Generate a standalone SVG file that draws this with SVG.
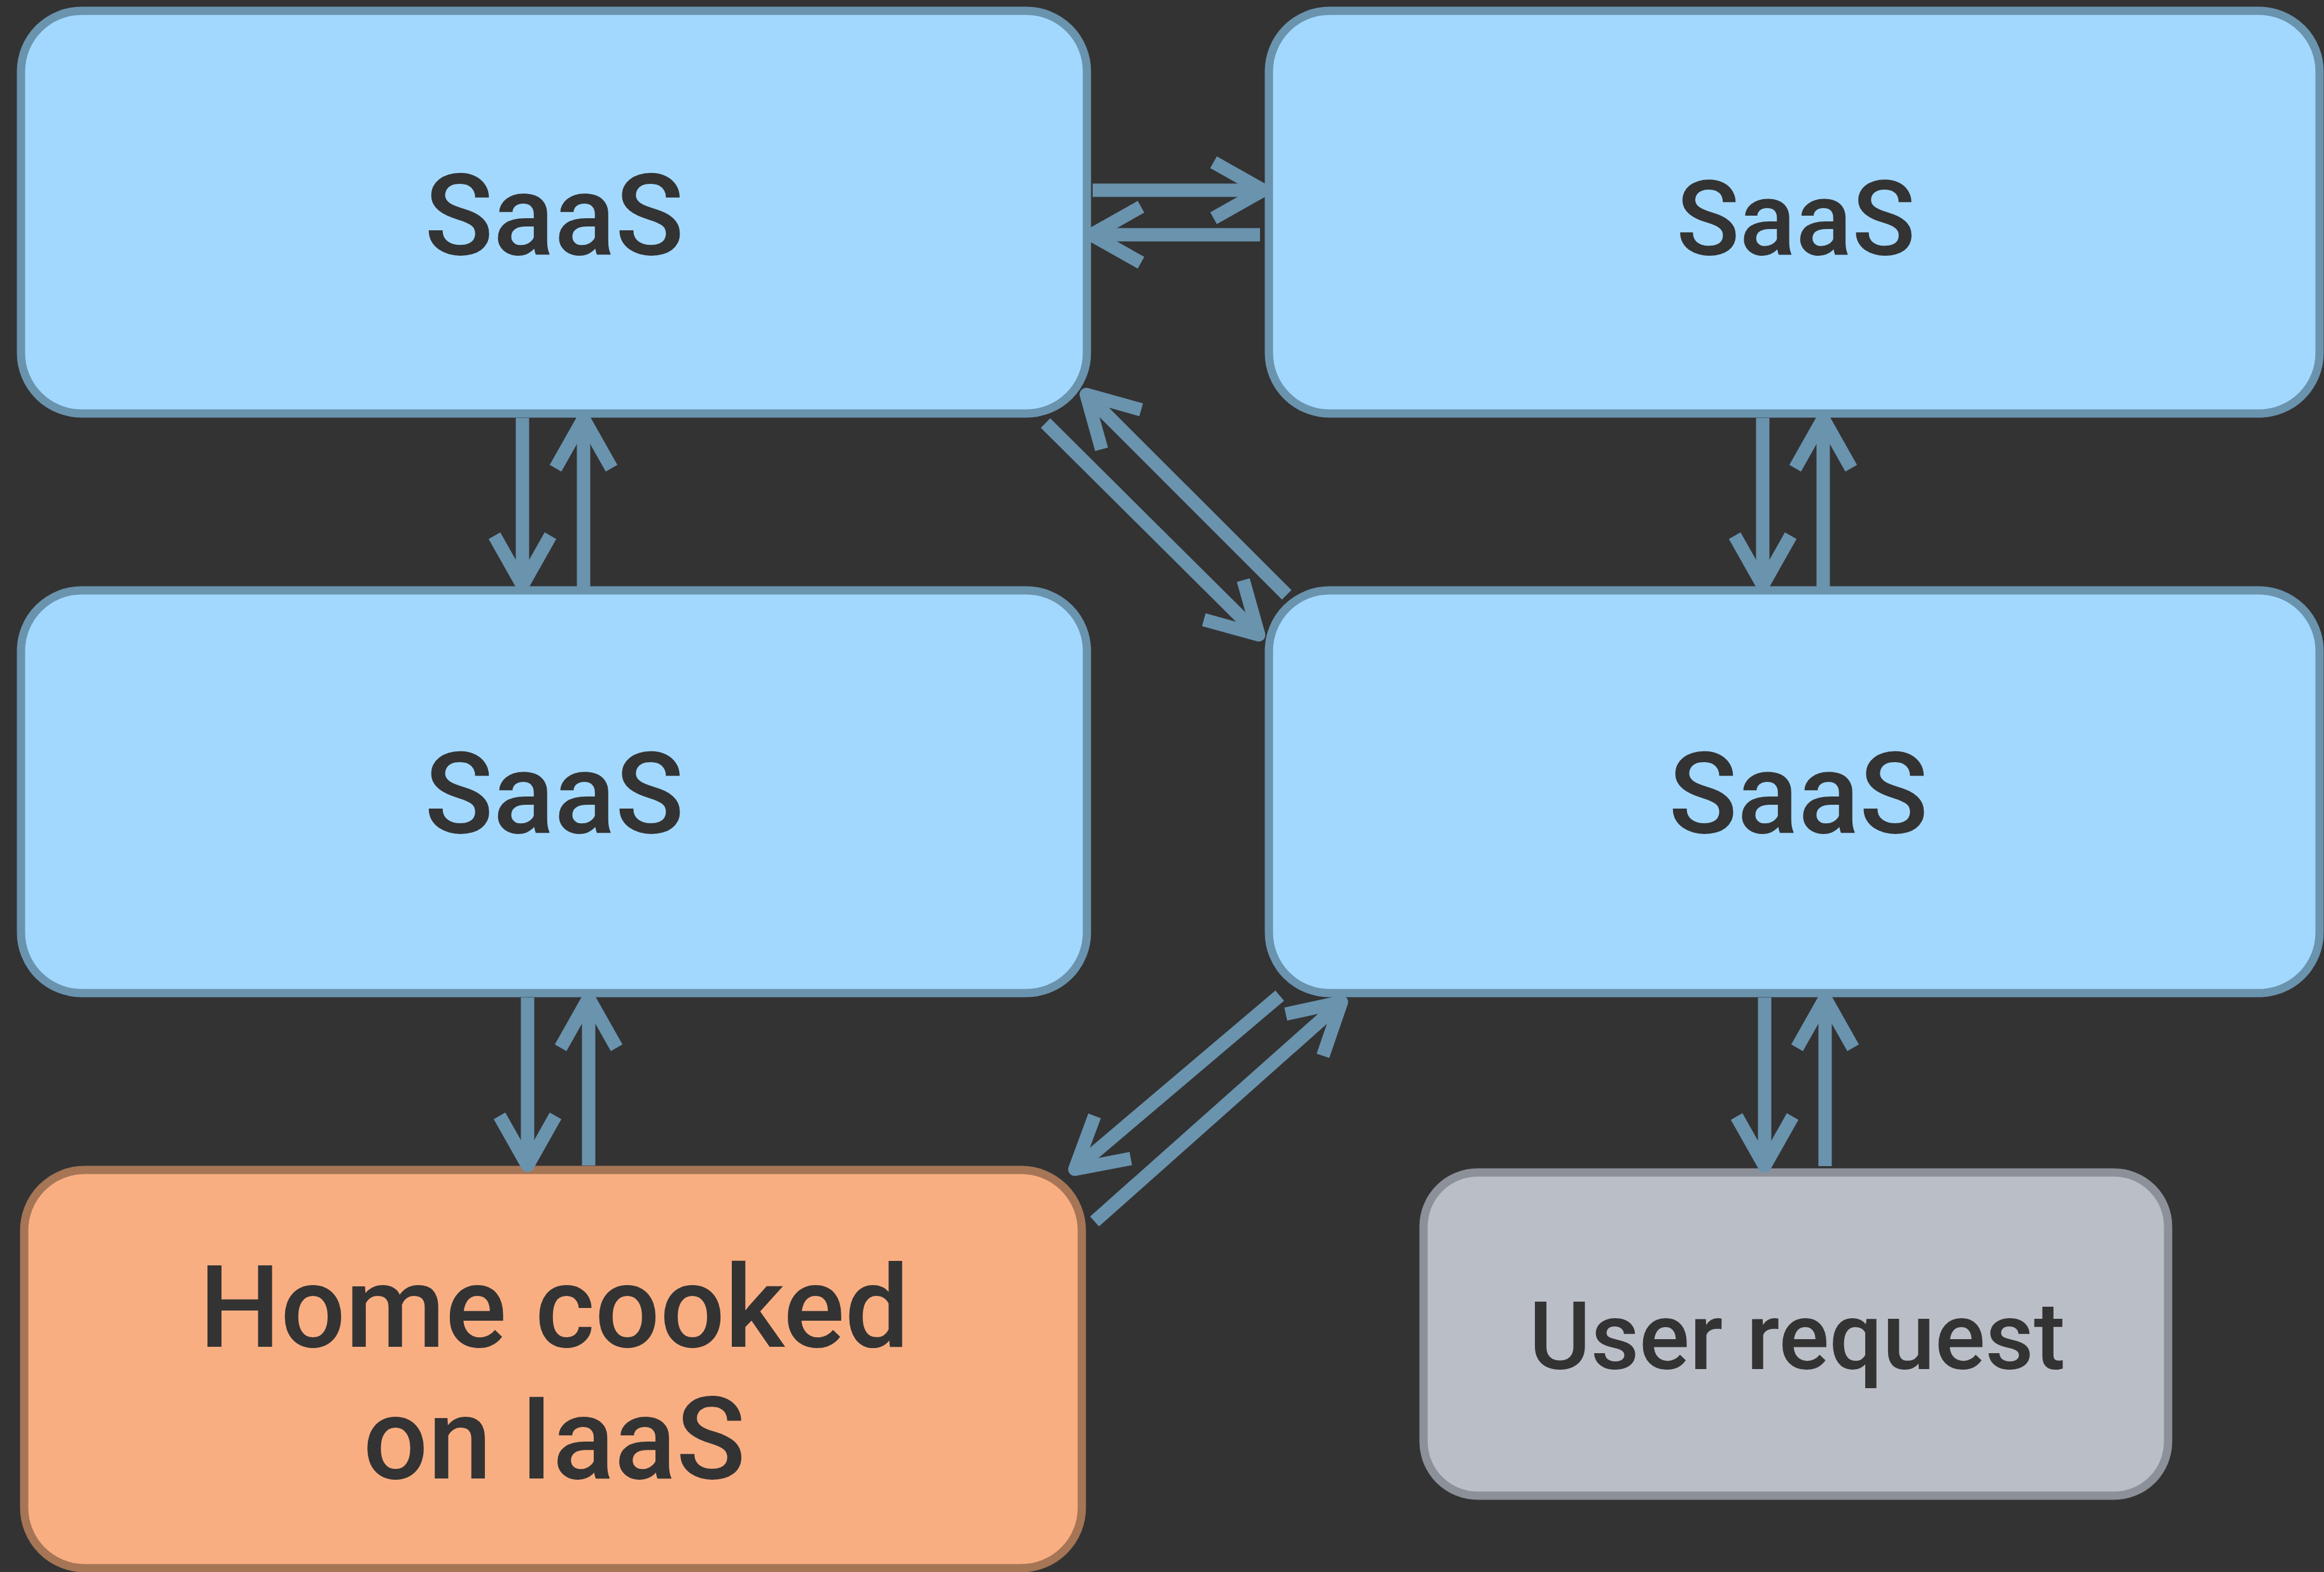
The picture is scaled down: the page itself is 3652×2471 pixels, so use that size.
<svg xmlns="http://www.w3.org/2000/svg" width="3652" height="2471" viewBox="0 0 3652 2471">
<style>
.saas rect{fill:#a3d8fe;stroke:#6a93ae;stroke-width:13}
.home rect{fill:#f9ae82;stroke:#a57556;stroke-width:13}
.user rect{fill:#babec7;stroke:#8c9099;stroke-width:13}
text{font-family:Roboto,"Liberation Sans",Arial,sans-serif;font-weight:500;fill:#333333;text-anchor:middle}
.conn line{stroke:#6a93ae;stroke-width:21;fill:none;marker-end:url(#ah)}
</style>
<defs>
<marker id="ah" markerUnits="userSpaceOnUse" markerWidth="10" markerHeight="10" refX="0" refY="0" orient="auto" overflow="visible">
<path d="M -78 -44 L 0 0 L -78 44" fill="none" stroke="#6a93ae" stroke-width="21" stroke-linejoin="round"/>
</marker>
</defs>
<rect width="3652" height="2471" fill="#333333"/>
<g id="node-saas-1" class="saas">
<rect x="33" y="17" width="1675" height="633" rx="95" ry="95"/>
<text x="871" y="400" font-size="178">SaaS</text>
</g>
<g id="node-saas-2" class="saas">
<rect x="1994" y="17" width="1651" height="633" rx="95" ry="95"/>
<text x="2822" y="400" font-size="164">SaaS</text>
</g>
<g id="node-saas-3" class="saas">
<rect x="33" y="928" width="1675" height="633" rx="95" ry="95"/>
<text x="871" y="1309" font-size="178">SaaS</text>
</g>
<g id="node-saas-4" class="saas">
<rect x="1994" y="928" width="1651" height="633" rx="95" ry="95"/>
<text x="2826" y="1309" font-size="178">SaaS</text>
</g>
<g id="node-home" class="home">
<rect x="38" y="1839" width="1662" height="626" rx="95" ry="95"/>
<text x="871" y="2117" font-size="180">Home cooked</text>
<text x="871" y="2324" font-size="180">on IaaS</text>
</g>
<g id="node-user" class="user">
<rect x="2237" y="1843" width="1170" height="508" rx="85" ry="85"/>
<text x="2824" y="2152" font-size="148">User request</text>
</g>
<g id="connectors" class="conn">
<line x1="1717" y1="299" x2="1985" y2="299"/>
<line x1="1980" y1="369" x2="1715" y2="369"/>
<line x1="821" y1="657" x2="821" y2="920"/>
<line x1="917" y1="922" x2="917" y2="658"/>
<line x1="2770" y1="657" x2="2770" y2="920"/>
<line x1="2865" y1="922" x2="2865" y2="658"/>
<line x1="829" y1="1568" x2="829" y2="1832"/>
<line x1="925" y1="1832" x2="925" y2="1569"/>
<line x1="2773" y1="1568" x2="2773" y2="1833"/>
<line x1="2868" y1="1833" x2="2868" y2="1569"/>
<line x1="1643" y1="665" x2="1978" y2="998"/>
<line x1="2022" y1="935" x2="1707" y2="620"/>
<line x1="2011" y1="1565" x2="1689" y2="1838"/>
<line x1="1720" y1="1920" x2="2108" y2="1575"/>
</g>
</svg>
